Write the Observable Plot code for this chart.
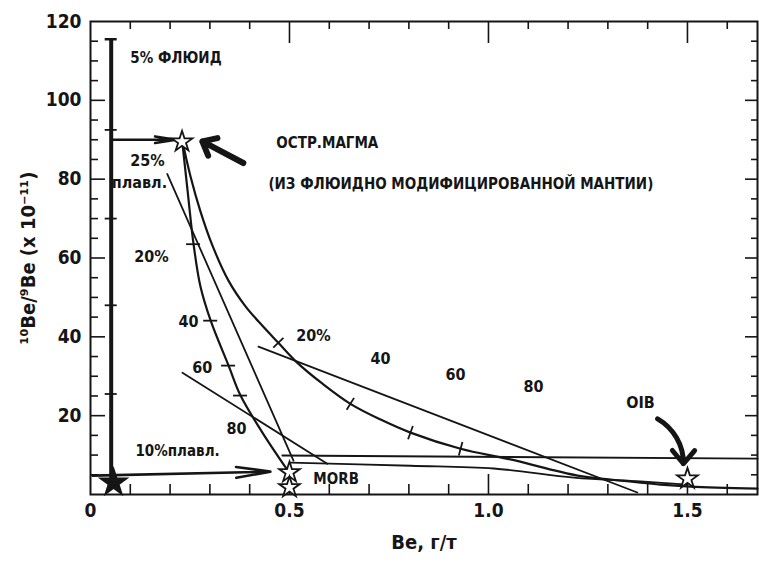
<!DOCTYPE html>
<html><head><meta charset="utf-8">
<script src="https://cdn.jsdelivr.net/npm/d3@7"></script>
<script src="https://cdn.jsdelivr.net/npm/@observablehq/plot@0.6"></script>
<style>
body{margin:0;background:#fff;}
#chart svg{display:block;}
</style></head><body><div id="chart"></div>
<script>
// ---------- axis ticks ----------
const xTickLabels = [0, 0.5, 1.0, 1.5];
const yTickLabels = [20, 40, 60, 80, 100, 120];
const xMinorTicks = [0.1, 0.2, 0.3, 0.4, 0.6, 0.7, 0.8, 0.9, 1.1, 1.2, 1.3, 1.4, 1.6];
const xMajorTicks = [0.5, 1.0, 1.5];
const yMinorTicks = [5, 10, 15, 25, 30, 35, 45, 50, 55, 65, 70, 75, 85, 90, 95, 105, 110, 115];
const yMajorTicks = [20, 40, 60, 80, 100];
const xMax = 1.676, yMax = 120;

// ---------- 5% fluid column ----------
const fluidX = [0.052];
const fluidTop = [115.5];
const fluidBottom = [4];
const fluidTickY = [92.5, 70, 48, 25.5];

// ---------- stars ----------
const openStarX = [0.23, 0.5, 0.5, 1.5];
const openStarY = [89.5, 5.6, 1.8, 4.0];
const filledStarX = [0.058];
const filledStarY = [3.0];

// ---------- melting curve (25% -> MORB), tick-marked ----------
const meltX = [0.231, 0.244, 0.259, 0.276, 0.302, 0.347, 0.377, 0.432, 0.492];
const meltY = [89.1, 77.0, 63.5, 52.9, 44.1, 32.7, 25.1, 15.7, 6.6];
const meltTickX = [0.259, 0.302, 0.347, 0.377];
const meltTickY = [63.5, 44.1, 32.7, 25.1];

// ---------- mixing curve (magma -> OIB) ----------
const mixX = [0.231, 0.251, 0.276, 0.307, 0.347, 0.389, 0.432, 0.472, 0.520, 0.583, 0.653, 0.729, 0.804, 0.930, 1.055, 1.224, 1.307, 1.432, 1.508, 1.676];
const mixY = [89.6, 80.8, 71.9, 63.0, 54.2, 47.8, 42.8, 38.5, 33.4, 28.1, 23.0, 19.0, 15.7, 11.6, 8.9, 4.8, 3.8, 2.5, 2.0, 1.5];
const mixTickX = [0.472, 0.653, 0.804, 0.930];
const mixTickY = [38.5, 23.0, 15.7, 11.6];

// ---------- straight mixing lines ----------
const line25X = [0.193, 0.510], line25Y = [81.3, 8.6];
const line20X = [0.422, 1.374], line20Y = [37.5, 0.5];
const line10X = [0.231, 0.595], line10Y = [30.9, 7.8];
const morbLowX = [0.503, 0.804, 1.013, 1.214, 1.382, 1.5];
const morbLowY = [8.1, 7.3, 6.6, 4.3, 3.3, 2.5];
const morbHighX = [0.482, 1.676], morbHighY = [9.9, 9.1];

// ---------- arrows ----------
const flowX1 = [0.055, 0.005], flowY1 = [90, 4.8];
const flowX2 = [0.215, 0.452], flowY2 = [90, 5.8];
const magmaPtrX = [0.384, 0.281], magmaPtrY = [84.1, 89.6];
const oibPtrX = [1.425, 1.49], oibPtrY = [19.2, 7.8];

// ---------- text ----------
const labelStartText = ["5% ФЛЮИД", "ОСТР.МАГМА", "(ИЗ ФЛЮИДНО МОДИФИЦИРОВАННОЙ МАНТИИ)", "10%плавл.", "MORB"];
const labelStartX = [0.1, 0.467, 0.447, 0.113, 0.56];
const labelStartY = [110.6, 89.1, 78.7, 11.1, 4.0];
const labelMidText = ["25%", "плавл.", "20%", "40", "60", "80", "20%", "40", "60", "80", "OIB"];
const labelMidX = [0.143, 0.123, 0.153, 0.246, 0.281, 0.367, 0.56, 0.729, 0.917, 1.113, 1.382];
const labelMidY = [84.6, 79.0, 60.3, 43.8, 32.2, 16.7, 40.3, 34.4, 30.4, 27.3, 23.3];
const xLabel = "Be, г/т";
const yLabel = "¹⁰Be/⁹Be (x 10⁻¹¹)";

// ---------- build ----------
const FONT = "'DejaVu Sans Condensed','Liberation Sans Narrow',sans-serif";
const W = 759, H = 563, mL = 90, mR = 2, mT = 21, mB = 69;
const kx = (W - mL - mR) / xMax, ky = (H - mT - mB) / yMax; // px per unit
const zip = (xs, ys) => xs.map((x, i) => ({x, y: ys[i]}));
const INK = "#151515";

// perpendicular tick segments on a curve
function perpTicks(tx, ty, cx, cy, halfPx) {
  return tx.map((x, i) => {
    const y = ty[i];
    let j = cx.findIndex((v, k) => Math.abs(v - x) < 1e-9 && Math.abs(cy[k] - y) < 1e-9);
    const a = Math.max(0, j - 1), b = Math.min(cx.length - 1, j + 1);
    const dxp = (cx[b] - cx[a]) * kx, dyp = -(cy[b] - cy[a]) * ky;
    const len = Math.hypot(dxp, dyp);
    const nx = -dyp / len, ny = dxp / len; // pixel normal
    return {x1: x + nx * halfPx / kx, y1: y - ny * halfPx / ky, x2: x - nx * halfPx / kx, y2: y + ny * halfPx / ky};
  });
}

const xMinorRules = xMinorTicks.map(x => ({x}));
const xMajorRules = xMajorTicks.map(x => ({x}));
const yMinorRules = yMinorTicks.map(y => ({y}));
const yMajorRules = yMajorTicks.map(y => ({y}));

const chart = Plot.plot({
  width: W, height: H,
  marginLeft: mL, marginRight: mR, marginTop: mT, marginBottom: mB,
  x: {domain: [0, xMax]},
  y: {domain: [0, yMax]},
  style: {fontFamily: FONT, background: "white", color: INK},
  marks: [
    Plot.frame({stroke: INK, strokeWidth: 2}),
    // inward ticks
    Plot.ruleX(xMinorRules, {x: "x", y1: 0, y2: 10 / ky, stroke: INK, strokeWidth: 1.6}),
    Plot.ruleX(xMajorRules, {x: "x", y1: 0, y2: 20 / ky, stroke: INK, strokeWidth: 1.6}),
    Plot.ruleX(xMinorRules, {x: "x", y1: yMax, y2: yMax - 8 / ky, stroke: INK, strokeWidth: 1.6}),
    Plot.ruleX(xMajorRules, {x: "x", y1: yMax, y2: yMax - 22 / ky, stroke: INK, strokeWidth: 1.6}),
    Plot.ruleY(yMinorRules, {y: "y", x1: 0, x2: 8 / kx, stroke: INK, strokeWidth: 1.6}),
    Plot.ruleY(yMajorRules, {y: "y", x1: 0, x2: 15 / kx, stroke: INK, strokeWidth: 1.6}),
    Plot.ruleY(yMinorRules, {y: "y", x1: xMax, x2: xMax - 6 / kx, stroke: INK, strokeWidth: 1.6}),
    Plot.ruleY(yMajorRules, {y: "y", x1: xMax, x2: xMax - 12 / kx, stroke: INK, strokeWidth: 1.6}),
    // tick labels
    Plot.axisX({ticks: xTickLabels, tickSize: 0, tickPadding: 9, fontSize: 19, fontWeight: "bold",
      tickFormat: d => d === 0 ? "0" : d3.format(".1f")(d), label: null}),
    Plot.axisY({ticks: yTickLabels, tickSize: 0, tickPadding: 9, fontSize: 19, fontWeight: "bold", label: null}),
    // 5% fluid column
    Plot.ruleX(fluidX.map((x, i) => ({x, y1: fluidBottom[i], y2: fluidTop[i]})), {x: "x", y1: "y1", y2: "y2", stroke: INK, strokeWidth: 4}),
    Plot.ruleY(fluidTop.map((y, i) => ({y, x: fluidX[i]})), {y: "y", x1: d => d.x - 6 / kx, x2: d => d.x + 6 / kx, stroke: INK, strokeWidth: 2.5}),
    Plot.ruleY(fluidTickY.map(y => ({y})), {y: "y", x1: fluidX[0] - 6 / kx, x2: fluidX[0] + 6 / kx, stroke: INK, strokeWidth: 1.8}),
    // curves
    Plot.line(zip(meltX, meltY), {x: "x", y: "y", curve: "catmull-rom", stroke: INK, strokeWidth: 2.2}),
    Plot.line(zip(mixX, mixY), {x: "x", y: "y", curve: "catmull-rom", stroke: INK, strokeWidth: 2.2}),
    Plot.line(zip(line25X, line25Y), {x: "x", y: "y", stroke: INK, strokeWidth: 1.8}),
    Plot.line(zip(line20X, line20Y), {x: "x", y: "y", stroke: INK, strokeWidth: 1.8}),
    Plot.line(zip(line10X, line10Y), {x: "x", y: "y", stroke: INK, strokeWidth: 1.8}),
    Plot.line(zip(morbLowX, morbLowY), {x: "x", y: "y", curve: "catmull-rom", stroke: INK, strokeWidth: 1.8}),
    Plot.line(zip(morbHighX, morbHighY), {x: "x", y: "y", stroke: INK, strokeWidth: 1.8}),
    // ticks on curves
    Plot.ruleY(zip(meltTickX, meltTickY), {y: "y", x1: d => d.x - 7 / kx, x2: d => d.x + 7 / kx, stroke: INK, strokeWidth: 1.8}),
    Plot.link(perpTicks(mixTickX, mixTickY, mixX, mixY, 7), {x1: "x1", y1: "y1", x2: "x2", y2: "y2", stroke: INK, strokeWidth: 1.8}),
    // arrows
    Plot.arrow(flowX1.map((x, i) => ({x1: x, y1: flowY1[i], x2: flowX2[i], y2: flowY2[i]})),
      {x1: "x1", y1: "y1", x2: "x2", y2: "y2", stroke: INK, strokeWidth: 2.6, headLength: 20, headAngle: 18}),
    Plot.arrow([{x1: magmaPtrX[0], y1: magmaPtrY[0], x2: magmaPtrX[1], y2: magmaPtrY[1]}],
      {x1: "x1", y1: "y1", x2: "x2", y2: "y2", stroke: INK, strokeWidth: 6, headLength: 9, headAngle: 80}),
    Plot.arrow([{x1: oibPtrX[0], y1: oibPtrY[0], x2: oibPtrX[1], y2: oibPtrY[1]}],
      {x1: "x1", y1: "y1", x2: "x2", y2: "y2", stroke: INK, strokeWidth: 5, headLength: 8, headAngle: 80, bend: 30}),
    // stars
    Plot.dot(zip(openStarX, openStarY), {x: "x", y: "y", symbol: "star", r: 6.5, fill: "white", stroke: INK, strokeWidth: 1.8}),
    Plot.dot(zip(filledStarX, filledStarY), {x: "x", y: "y", symbol: "star", r: 8.5, fill: INK, stroke: INK}),
    // labels
    Plot.text(labelStartText.map((t, i) => ({t, x: labelStartX[i], y: labelStartY[i]})),
      {x: "x", y: "y", text: "t", textAnchor: "start", fontSize: 15, fontWeight: "bold", fill: INK}),
    Plot.text(labelMidText.map((t, i) => ({t, x: labelMidX[i], y: labelMidY[i]})),
      {x: "x", y: "y", text: "t", textAnchor: "middle", fontSize: 16, fontWeight: "bold", fill: INK}),
    Plot.text([xLabel], {text: d => d, frameAnchor: "bottom", dy: 54, fontSize: 20, fontWeight: "bold", fill: INK}),
    Plot.text([yLabel], {text: d => d, frameAnchor: "left", textAnchor: "middle", dx: -62, rotate: -90, fontSize: 20, fontWeight: "bold", fill: INK})
  ]
});
document.getElementById("chart").append(chart);
</script>
</body></html>
